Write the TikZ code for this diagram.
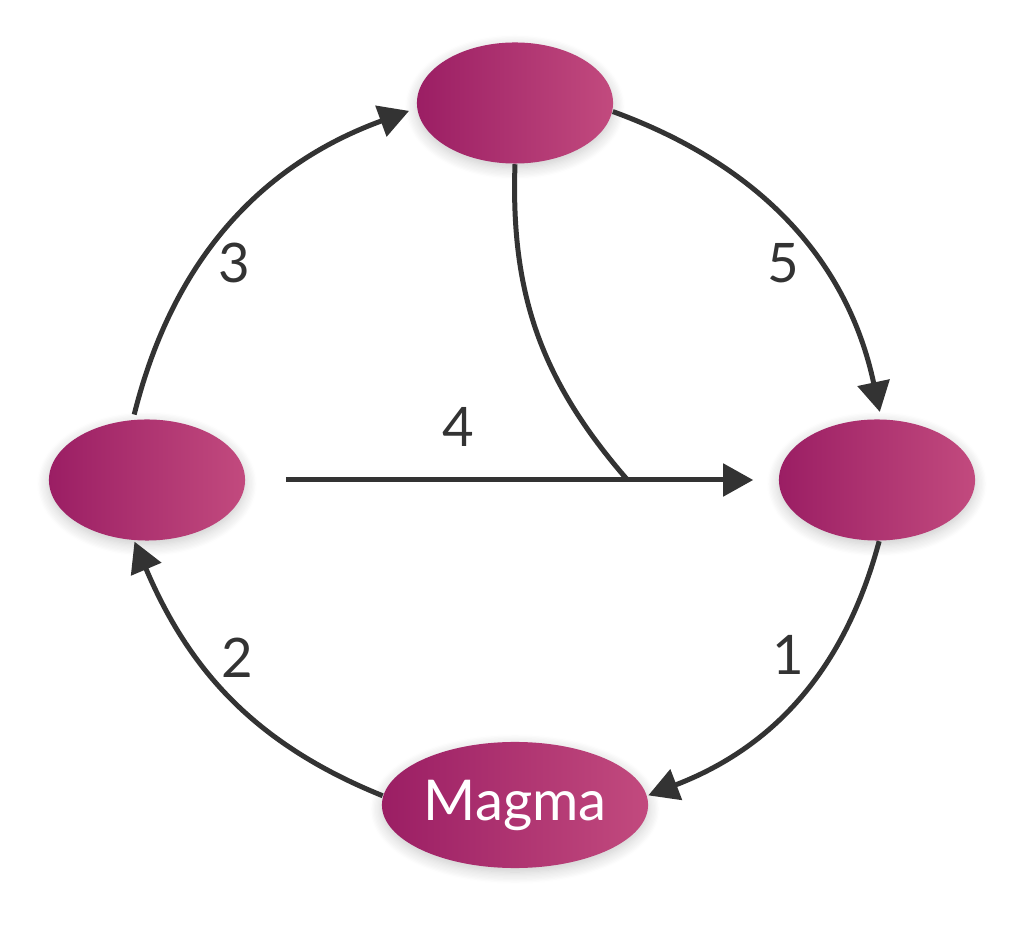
\documentclass[tikz,border=0pt]{standalone}
\usepackage{fontspec}
\setmainfont{Lato}
\usepackage{tikz}
\usetikzlibrary{shapes,arrows.meta,calc,positioning,shadows.blur}
\definecolor{magmaL}{RGB}{155,30,100}
\definecolor{magmaR}{RGB}{194,74,126}
\definecolor{edgegray}{RGB}{51,51,51}
\tikzset{
    -{Triangle[length=0.3cm,width=0.32cm]},x=0.01cm,y=0.01cm,
    every edge/.append style={draw=edgegray, line width=0.05cm},
    state/.style ={ellipse, inner sep=0pt, minimum width = 1.96cm, minimum height = 1.21cm,
        left color=magmaL, right color=magmaR,
        blur shadow={shadow xshift=0pt, shadow yshift=-0.04cm, shadow opacity=22, shadow blur radius=0.12cm, shadow blur steps=10}},
    num/.style = {text=edgegray, font=\fontsize{15.5}{18}\selectfont}
}
\begin{document}
\begin{tikzpicture}
    \useasboundingbox (0,0) rectangle (1024,-925);

    %%Nodes
    \node[state] (ntop) at (515,-103) {};
    \node[state] (nleft) at (147,-480) {};
    \node[state] (nright) at (877,-480) {};
    \node[state, minimum width = 2.66cm, minimum height = 1.26cm, text=white,
        font=\fontsize{16}{19}\selectfont] (magma) at (515,-805) {Magma};
    \coordinate (join) at ($(nleft.east)!0.717!(nright.west)$);

    %%Labels
    \node[num] (l1) at (788,-655) {1};
    \node[num] (l2) at (237,-658) {2};
    \node[num] (l3) at (234,-263) {3};
    \node[num] (l4) at (458,-427) {4};
    \node[num] (l5) at (783,-263) {5};

    % Directed edge
    \path (nright.-88) edge[out=-105, in=21, shorten >=0.01cm] (magma.4);
    \path (magma.176) edge[out=158, in=-67, shorten >=0.01cm] (nleft.258);
    \path (nleft.103) edge[out=76, in=200, shorten <=0.05cm, shorten >=0.08cm] (ntop.183);
    \path (nleft.east) edge[shorten <=0.4cm, shorten >=0.25cm] (nright.west);
    \path (ntop.-5) edge[out=-20, in=102, shorten >=0.07cm] (nright.86);
    \path (ntop.south) edge[-, out=-92, in=131] (join);

\end{tikzpicture}
\end{document}
